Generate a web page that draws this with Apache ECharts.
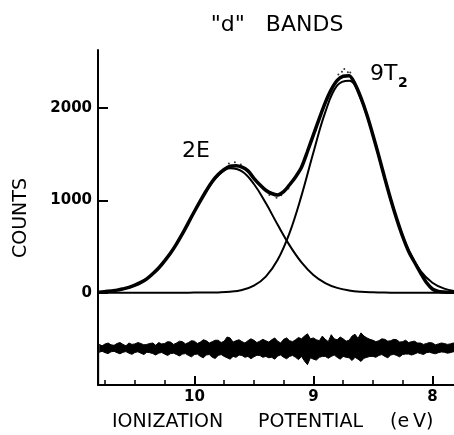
<!DOCTYPE html>
<html>
<head>
<meta charset="utf-8">
<script src="https://cdn.jsdelivr.net/npm/echarts@6/dist/echarts.min.js"></script>
<style>
  html, body { margin: 0; padding: 0; background: #fff; }
  #chart { width: 454px; height: 435px; }
</style>
</head>
<body>
<div id="chart"></div>
<script>
// sample positions (eV) for the fitted curves, 0.1 eV apart
const evFit = [10.8, 10.7, 10.6, 10.5, 10.4, 10.3, 10.2, 10.1, 10.0, 9.9, 9.8, 9.7, 9.6, 9.5, 9.4, 9.3,
  9.2, 9.1, 9.0, 8.9, 8.8, 8.7, 8.6, 8.5, 8.4, 8.3, 8.2, 8.1, 8.0, 7.9, 7.8];
const fit2E = [7, 17, 39, 80, 153, 268, 433, 643, 878, 1102, 1271, 1348, 1314, 1178, 971, 736,
  513, 329, 193, 105, 52, 24, 10, 4, 1, 0, 0, 0, 0, 0, 0];
const fit9T2 = [0, 0, 0, 0, 0, 0, 0, 0, 1, 1, 3, 10, 30, 77, 175, 357,
  649, 1052, 1519, 1957, 2246, 2298, 2096, 1705, 1235, 798, 460, 236, 108, 44, 16];

// measured spectrum, read every 0.05 eV
const evData = [10.80, 10.75, 10.70, 10.65, 10.60, 10.55, 10.50, 10.45, 10.40, 10.35,
  10.30, 10.25, 10.20, 10.15, 10.10, 10.05, 10.00, 9.95, 9.90, 9.85,
  9.80, 9.75, 9.70, 9.65, 9.60, 9.55, 9.50, 9.45, 9.40, 9.35,
  9.30, 9.25, 9.20, 9.15, 9.10, 9.05, 9.00, 8.95, 8.90, 8.85,
  8.80, 8.75, 8.70, 8.65, 8.60, 8.55, 8.50, 8.45, 8.40, 8.35,
  8.30, 8.25, 8.20, 8.15, 8.10, 8.05, 8.00, 7.95, 7.90, 7.85, 7.80];
const counts = [5, 12, 20, 28, 42, 58, 82, 112, 150, 205,
  268, 345, 430, 530, 640, 760, 880, 995, 1105, 1205,
  1280, 1335, 1370, 1375, 1360, 1320, 1240, 1170, 1110, 1075,
  1060, 1095, 1170, 1255, 1360, 1530, 1710, 1890, 2060, 2200,
  2300, 2345, 2350, 2260, 2110, 1925, 1710, 1480, 1240, 1010,
  800, 610, 450, 330, 215, 110, 40, 15, 8, 5, 4];

// residual trace (offset below zero): top and bottom edge of the band, read every 0.025 eV
const evRes = [10.8, 10.775, 10.75, 10.725, 10.7, 10.675, 10.65, 10.625, 10.6, 10.575,
  10.55, 10.525, 10.5, 10.475, 10.45, 10.425, 10.4, 10.375, 10.35, 10.325,
  10.3, 10.275, 10.25, 10.225, 10.2, 10.175, 10.15, 10.125, 10.1, 10.075,
  10.05, 10.025, 10.0, 9.975, 9.95, 9.925, 9.9, 9.875, 9.85, 9.825,
  9.8, 9.775, 9.75, 9.725, 9.7, 9.675, 9.65, 9.625, 9.6, 9.575,
  9.55, 9.525, 9.5, 9.475, 9.45, 9.425, 9.4, 9.375, 9.35, 9.325,
  9.3, 9.275, 9.25, 9.225, 9.2, 9.175, 9.15, 9.125, 9.1, 9.075,
  9.05, 9.025, 9.0, 8.975, 8.95, 8.925, 8.9, 8.875, 8.85, 8.825,
  8.8, 8.775, 8.75, 8.725, 8.7, 8.675, 8.65, 8.625, 8.6, 8.575,
  8.55, 8.525, 8.5, 8.475, 8.45, 8.425, 8.4, 8.375, 8.35, 8.325,
  8.3, 8.275, 8.25, 8.225, 8.2, 8.175, 8.15, 8.125, 8.1, 8.075,
  8.05, 8.025, 8.0, 7.975, 7.95, 7.925, 7.9, 7.875, 7.85, 7.825, 7.8];
const resUpper = [-560, -575, -555, -545, -565, -570, -550, -540, -560, -575,
  -545, -560, -555, -540, -550, -565, -560, -550, -545, -570,
  -540, -555, -550, -530, -535, -560, -545, -525, -530, -555,
  -540, -520, -525, -550, -535, -510, -520, -545, -530, -515,
  -515, -540, -525, -480, -490, -535, -520, -510, -530, -545,
  -520, -500, -515, -540, -525, -505, -520, -535, -510, -490,
  -525, -545, -505, -490, -520, -530, -510, -485, -500, -470,
  -445, -500, -490, -510, -520, -470, -505, -530, -455, -500,
  -510, -480, -500, -525, -515, -470, -450, -495, -435, -470,
  -490, -505, -515, -530, -520, -500, -505, -525, -520, -505,
  -510, -535, -530, -515, -540, -530, -525, -545, -545, -560,
  -550, -540, -545, -565, -555, -545, -550, -560, -555, -545, -550];
const resLower = [-645, -635, -650, -660, -640, -635, -650, -662, -645, -638,
  -655, -668, -648, -640, -655, -670, -645, -650, -660, -675,
  -655, -648, -665, -680, -660, -655, -670, -685, -665, -660,
  -680, -695, -670, -665, -690, -705, -675, -670, -700, -712,
  -680, -670, -690, -705, -720, -690, -700, -675, -680, -700,
  -690, -715, -695, -678, -680, -700, -690, -705, -700, -720,
  -685, -675, -700, -715, -690, -680, -700, -725, -690, -740,
  -780, -705, -720, -730, -700, -690, -690, -710, -690, -675,
  -700, -720, -690, -700, -705, -735, -700, -720, -745, -710,
  -700, -690, -690, -700, -680, -670, -690, -705, -675, -668,
  -680, -695, -670, -665, -665, -675, -665, -650, -660, -670,
  -650, -645, -655, -662, -650, -642, -645, -655, -650, -640, -645];

// loose dots standing off the band
const strayEv = [9.71, 9.66, 9.61, 9.43, 9.37, 9.31, 9.27, 9.21, 8.98, 8.79, 8.76, 8.74, 8.71, 8.69];
const strayCounts = [1400, 1415, 1390, 1140, 1060, 1030, 1055, 1130, 1760, 2365, 2395, 2425, 2390, 2385];

const xTicks = [8, 9, 10];
const yTicks = [0, 1000, 2000];

const chart = echarts.init(document.getElementById('chart'), null, { renderer: 'canvas' });

const pairs = (xs, ys) => xs.map((x, i) => [x, ys[i]]);
const black = '#000';
const font = 'DejaVu Sans';

const option = {
  animation: false,
  backgroundColor: '#fff',
  grid: { left: 98, top: 50, width: 453.4, height: 335, containLabel: false, outerBoundsMode: 'none' },
  xAxis: {
    type: 'value', min: 7, max: 10.81, interval: 1, inverse: true, z: 10,
    axisLine: { show: true, onZero: false, lineStyle: { color: black, width: 2 } },
    axisTick: { show: true, inside: true, length: 9, customValues: xTicks, lineStyle: { color: black, width: 2 } },
    minorTick: { show: true, splitNumber: 4, length: 5, lineStyle: { color: black, width: 1.5 } },
    axisLabel: { customValues: xTicks, formatter: v => String(v), color: black, fontFamily: font, fontWeight: 'bold', fontSize: 15, margin: 5 },
    splitLine: { show: false },
    minorSplitLine: { show: false }
  },
  yAxis: {
    type: 'value', min: -1000, max: 2630, interval: 1000, z: 10,
    axisLine: { show: true, onZero: false, lineStyle: { color: black, width: 2 } },
    axisTick: { show: true, inside: true, length: 10, customValues: yTicks, lineStyle: { color: black, width: 2 } },
    axisLabel: { customValues: yTicks, formatter: v => String(v), color: black, fontFamily: font, fontWeight: 'bold', fontSize: 15, margin: 6 },
    splitLine: { show: false }
  },
  series: [
    {
      // top edge of the residual band, filled down
      type: 'line', symbol: 'none',
      data: pairs(evRes, resUpper),
      lineStyle: { color: black, width: 1 },
      areaStyle: { color: black, opacity: 1, origin: 'start' }
    },
    {
      // bottom edge, white fill below it leaves only the band
      type: 'line', symbol: 'none',
      data: pairs(evRes, resLower),
      lineStyle: { color: black, width: 1 },
      areaStyle: { color: '#fff', opacity: 1, origin: 'start' }
    },
    {
      type: 'line', symbol: 'none', smooth: 0.3,
      data: pairs(evData, counts),
      lineStyle: { color: black, width: 3.5 }
    },
    {
      type: 'scatter', symbolSize: 2,
      data: pairs(strayEv, strayCounts),
      itemStyle: { color: black }
    },
    {
      type: 'line', symbol: 'none', smooth: 0.4,
      data: pairs(evFit, fit2E),
      lineStyle: { color: black, width: 2 }
    },
    {
      type: 'line', symbol: 'none', smooth: 0.4,
      data: pairs(evFit, fit9T2),
      lineStyle: { color: black, width: 2 }
    }
  ],
  graphic: [
    { type: 'text', x: 277, y: 25, style: { text: '"d"   BANDS', fontFamily: font, fontSize: 22, fill: black, align: 'center', verticalAlign: 'middle' } },
    { type: 'text', x: 21, y: 218, rotation: Math.PI / 2, style: { text: 'COUNTS', fontFamily: font, fontSize: 19, fill: black, align: 'center', verticalAlign: 'middle' } },
    { type: 'text', x: 112, y: 422, style: { text: 'IONIZATION', fontFamily: font, fontSize: 19, fill: black, align: 'left', verticalAlign: 'middle' } },
    { type: 'text', x: 258, y: 422, style: { text: 'POTENTIAL', fontFamily: font, fontSize: 19, fill: black, align: 'left', verticalAlign: 'middle' } },
    { type: 'text', x: 390, y: 422, style: { text: '(e\u2009V)', fontFamily: font, fontSize: 19, fill: black, align: 'left', verticalAlign: 'middle' } },
    { type: 'text', x: 196, y: 151, style: { text: '2E', fontFamily: font, fontSize: 22, fill: black, align: 'center', verticalAlign: 'middle' } },
    { type: 'text', x: 370, y: 74, style: { text: '9T', fontFamily: font, fontSize: 22, fill: black, align: 'left', verticalAlign: 'middle' } },
    { type: 'text', x: 398, y: 83, style: { text: '2', fontFamily: font, fontSize: 14, fontWeight: 'bold', fill: black, align: 'left', verticalAlign: 'middle' } }
  ]
};

chart.setOption(option);
</script>
</body>
</html>
